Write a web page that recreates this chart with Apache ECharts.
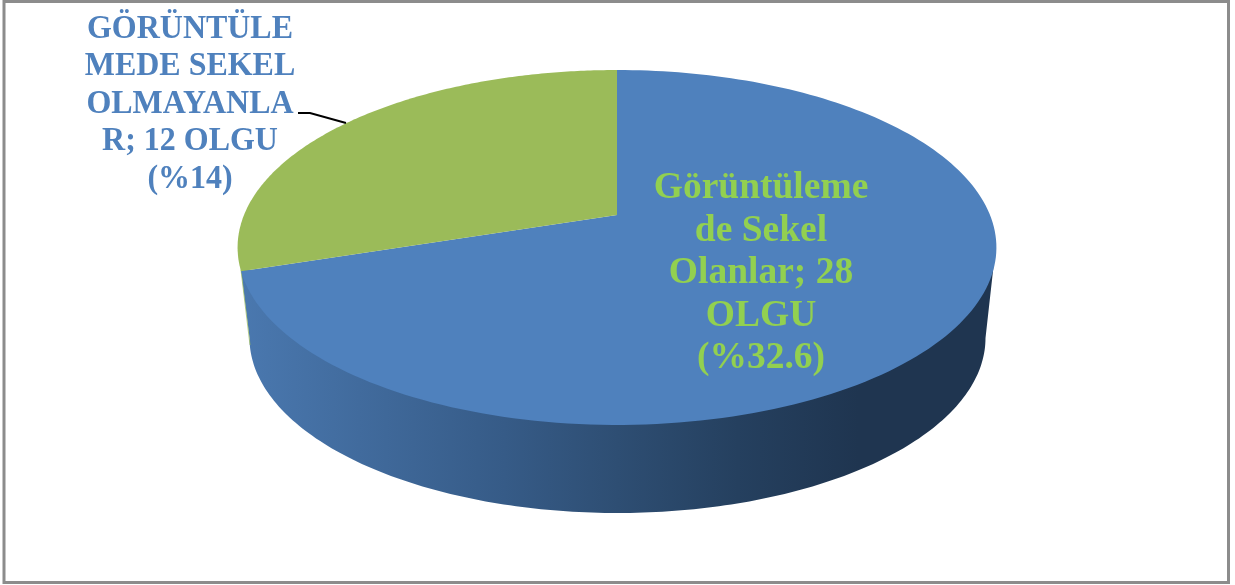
<!DOCTYPE html>
<html>
<head>
<meta charset="utf-8">
<title>Görüntüleme</title>
<script src="https://cdn.jsdelivr.net/npm/echarts@6/dist/echarts.min.js"></script>
<style>
    html, body { margin: 0; padding: 0; background: #fff; }
    #chart { width: 1235px; height: 585px; }
</style>
</head>
<body>
<div id="chart"></div>
<script>
// values, blue slice first, clockwise from 12 o'clock
const categories = ['Görüntülemede Sekel Olanlar', 'Görüntülemede Sekel Olmayanlar'];
const caseCounts = [28, 12];
const sliceLabels = [
    'Görüntüleme\nde Sekel\nOlanlar; 28\nOLGU\n(%32.6)',
    'GÖRÜNTÜLE\nMEDE SEKEL\nOLMAYANLA\nR; 12 OLGU\n(%14)'
];
const sliceColors = ['#4f81bd', '#9bbb59'];

// perspective of the tilted disc
const apexX = 617, apexY = 215, discA = 373, discB = 171.5, tilt = 0.183;
const total = caseCounts.reduce((a, b) => a + b, 0);

// point on the top face: r = 0..1 from the centre, t = clockwise angle from 12 o'clock
function project(t, r) {
    const u = Math.sin(t) * r, v = Math.cos(t) * r;
    const d = 1 + tilt * v;
    return [apexX + discA * u / d, apexY - discB * v / d];
}

function renderSlice(params, api) {
    const i = params.dataIndex;
    const before = caseCounts.slice(0, i).reduce((a, b) => a + b, 0);
    const t0 = before / total * Math.PI * 2;
    const t1 = (before + api.value(0)) / total * Math.PI * 2;
    const points = [[apexX, apexY]];
    for (let k = 0; k <= 180; k++) {
        points.push(project(t0 + (t1 - t0) * k / 180, 1));
    }
    const children = [{
        type: 'polygon',
        shape: { points: points },
        style: { fill: sliceColors[i] }
    }];
    if (i === 0) {
        children.push({
            type: 'text',
            z2: 10,
            x: 761,
            y: 273.5,
            style: {
                text: sliceLabels[i],
                fill: '#92d050', align: 'center', verticalAlign: 'middle',
                font: 'bold 37.5px "Liberation Serif"', lineHeight: 42.6
            }
        });
    } else {
        children.push({
            type: 'polyline',
            shape: { points: [[298, 113], [310, 113], [346, 123]] },
            style: { stroke: '#000', lineWidth: 2, fill: null }
        }, {
            type: 'text',
            z2: 10,
            x: 190,
            y: 104,
            scaleX: 0.94,
            style: {
                text: sliceLabels[i],
                fill: '#4f81bd', align: 'center', verticalAlign: 'middle',
                font: 'bold 34px "Liberation Serif"', lineHeight: 37.6
            }
        });
    }
    return { type: 'group', children: children };
}

// side wall below the front of the disc
function renderWall() {
    const baseX = 617.5, baseY = 338, baseA = 368, baseB = 175;
    const points = [[241, 270]];
    for (let k = 0; k <= 180; k++) {
        const a = Math.PI - Math.PI * k / 180;
        points.push([baseX + baseA * Math.cos(a), baseY + baseB * Math.sin(a)]);
    }
    points.push([994, 262]);
    return {
        type: 'group',
        children: [{
            type: 'polygon',
            shape: { points: points },
            style: {
                fill: new echarts.graphic.LinearGradient(241, 0, 994, 0, [
                    { offset: 0, color: '#4a78af' },
                    { offset: 0.35, color: '#365b87' },
                    { offset: 0.5, color: '#2e4e73' },
                    { offset: 0.66, color: '#25405f' },
                    { offset: 0.82, color: '#1f3550' },
                    { offset: 1, color: '#1f3550' }
                ], true)
            }
        }, {
            type: 'polyline',
            shape: { points: [[241, 270], [250, 345]] },
            style: { stroke: '#9bbb59', lineWidth: 1, fill: null, opacity: 0.7 }
        }]
    };
}

const chart = echarts.init(document.getElementById('chart'));
chart.setOption({
    animation: false,
    backgroundColor: '#fff',
    graphic: [{
        type: 'rect',
        silent: true,
        shape: { x: 4, y: 1.5, width: 1224.5, height: 581 },
        style: { fill: null, stroke: '#8c8c8c', lineWidth: 3 }
    }],
    series: [{
        type: 'custom',
        name: 'wall',
        coordinateSystem: 'none',
        silent: true,
        z: 1,
        data: [total],
        renderItem: renderWall
    }, {
        type: 'custom',
        name: 'slices',
        coordinateSystem: 'none',
        z: 2,
        data: categories.map((c, i) => ({ name: c, value: [caseCounts[i]] })),
        renderItem: renderSlice
    }]
});
</script>
</body>
</html>
